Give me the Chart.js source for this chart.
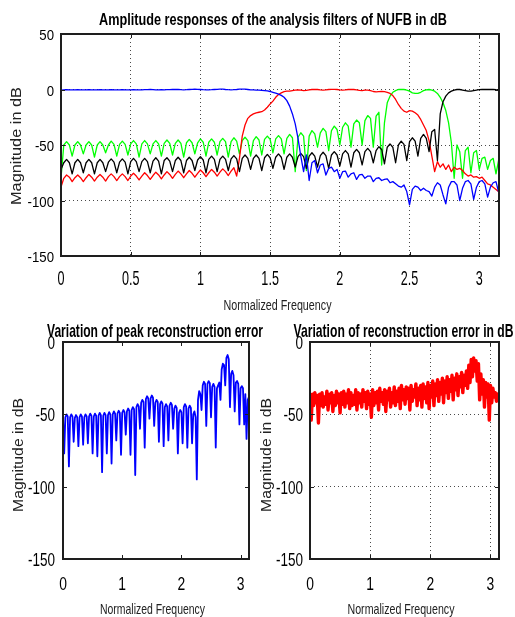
<!DOCTYPE html>
<html lang="en">
<head>
<meta charset="UTF-8">
<title>Amplitude responses of the analysis filters of NUFB</title>
<style>
  html, body { margin: 0; padding: 0; background: #fff; }
  #wrap { position: relative; width: 515px; height: 617px; overflow: hidden; }
  #wrap canvas { position: absolute; left: 0; top: 0; }
</style>
</head>
<body>
<div id="wrap">
  <canvas id="topChart" width="515" height="617"></canvas>
  <canvas id="peakChart" width="515" height="617"></canvas>
  <canvas id="errChart" width="515" height="617"></canvas>
</div>

<script src="https://cdn.jsdelivr.net/npm/chart.js@4.4.1/dist/chart.umd.min.js"></script>
<script>
// normalized frequency grid (rad/sample), shared by all three panels
const freq = [
  0,0.02,0.04,0.06,0.08,0.1,0.12,0.14,0.16,0.18,
  0.2,0.22,0.24,0.26,0.28,0.3,0.32,0.34,0.36,0.38,
  0.4,0.42,0.44,0.46,0.48,0.5,0.52,0.54,0.56,0.58,
  0.6,0.62,0.64,0.66,0.68,0.7,0.72,0.74,0.76,0.78,
  0.8,0.82,0.84,0.86,0.88,0.9,0.92,0.94,0.96,0.98,
  1,1.02,1.04,1.06,1.08,1.1,1.12,1.14,1.16,1.18,
  1.2,1.22,1.24,1.26,1.28,1.3,1.32,1.34,1.36,1.38,
  1.4,1.42,1.44,1.46,1.48,1.5,1.52,1.54,1.56,1.58,
  1.6,1.62,1.64,1.66,1.68,1.7,1.72,1.74,1.76,1.78,
  1.8,1.82,1.84,1.86,1.88,1.9,1.92,1.94,1.96,1.98,
  2,2.02,2.04,2.06,2.08,2.1,2.12,2.14,2.16,2.18,
  2.2,2.22,2.24,2.26,2.28,2.3,2.32,2.34,2.36,2.38,
  2.4,2.42,2.44,2.46,2.48,2.5,2.52,2.54,2.56,2.58,
  2.6,2.62,2.64,2.66,2.68,2.7,2.72,2.74,2.76,2.78,
  2.8,2.82,2.84,2.86,2.88,2.9,2.92,2.94,2.96,2.98,
  3,3.02,3.04,3.06,3.08,3.1,3.12,3.14
];

// analysis filter 1 (lowpass, blue) in dB
const band1 = [
  -0.5,-0.3,-0.2,-0.3,-0.4,-0.3,-0.2,-0.3,-0.4,-0.3,
  -0.2,-0.3,-0.4,-0.3,-0.2,-0.3,-0.4,-0.3,-0.2,-0.3,
  -0.4,-0.3,-0.2,-0.3,-0.4,-0.3,-0.2,-0.3,-0.4,-0.3,
  -0.2,-0.1,0,-0.1,-0.3,-0.3,-0.2,-0.3,-0.2,-0.1,
  0,0.1,0,-0.2,-0.3,-0.2,0,0.2,0.3,0.2,
  0,-0.2,-0.3,-0.3,-0.2,0,0.2,0.4,0.3,0,
  -0.2,-0.3,-0.2,0,0.3,0.4,0.3,0,-0.3,-0.4,
  -0.5,-0.6,-0.8,-1,-1.3,-1.8,-2.5,-3.3,-4.2,-5.3,
  -7,-10,-15,-22,-31,-44,-60,-74,-59,-82,
  -66,-64,-75,-68,-67,-77,-71,-70,-74,-72,
  -80,-74,-73.5,-79,-76,-75,-81,-77,-76.5,-80,
  -78,-78,-83,-80,-79.5,-82,-81,-80.5,-84,-83,
  -85,-87,-88,-86,-92,-104,-90,-87,-88,-91,
  -89,-91,-92,-96,-88,-84,-86,-95,-103,-88,
  -83,-83,-86,-100,-89,-83,-82,-85,-99,-88,
  -83,-82,-85,-97,-88,-84,-83,-93
];

// analysis filter 2 (red) in dB
const band2 = [
  -88,-80,-77,-79,-83,-79.5,-77,-79.5,-83,-79.5,
  -76.5,-79,-82.5,-79,-76.5,-79,-82.5,-78.5,-76,-78.5,
  -82,-78.5,-76,-78.5,-82,-78,-75.5,-78,-81.5,-78,
  -75,-77.5,-81,-77.5,-74.5,-77,-80.5,-77,-74,-76.5,
  -80,-76.5,-73.5,-76,-79.5,-76,-73,-75.5,-79,-75.5,
  -72.5,-75,-78.5,-75,-72,-74.5,-78,-74.5,-71.5,-74,
  -77.5,-73.5,-70.5,-78,-62,-42,-32,-26,-23.5,-22,
  -21,-20.5,-20,-18.5,-16,-13,-10.5,-7,-4.5,-3,
  -2,-1.5,-1.5,-1,-0.5,-0.3,-0.5,-1,-0.8,-0.3,
  0,0.2,0,-0.3,-0.5,-0.3,0,0.2,0.2,0,
  -0.3,-0.5,-0.3,0,0.2,0,-0.3,-0.8,-1,-0.6,
  -0.5,-1,-1.8,-2.2,-2,-1.8,-2,-2.5,-3.5,-5.5,
  -9,-13.5,-17,-19.5,-20.5,-19,-19.5,-21,-23,-27,
  -32,-37,-46,-60,-74,-65,-70,-67,-72,-68,
  -74,-70,-72,-71,-73,-76,-78,-77,-79,-78.5,
  -80,-79,-82,-85,-86,-88,-90,-92
];

// analysis filter 3 (green) in dB
const band3 = [
  -80,-50,-47,-50,-60,-50,-47,-50,-58,-50,
  -47,-50,-61,-50,-47,-50,-57,-50,-46.5,-49.5,
  -60,-49.5,-46.5,-49.5,-59,-49,-46,-49,-61,-49,
  -46,-49,-58,-49,-46,-49,-60,-48.5,-45.5,-48.5,
  -59,-48.5,-45.5,-48.5,-61,-48,-45,-48,-58,-48,
  -44.5,-47.5,-60,-47.5,-44.5,-47.5,-59,-47,-44,-47,
  -61,-47,-43.5,-46.5,-58,-46,-43,-46,-60,-46,
  -42.5,-45.5,-59,-45,-42,-45,-57,-44.5,-41.5,-44.5,
  -58,-44,-40.5,-43.5,-74,-43,-39,-42,-73,-42,
  -37,-40,-52,-39,-35,-38,-55,-37,-33,-36,
  -50,-34,-30,-33,-52,-31,-27.5,-30,-50,-28,
  -23.5,-26,-52,-24,-20.5,-68,-30,-12,-6,-2.5,
  -1,0,0,0,-0.5,-1.5,-3,-3.5,-3.5,-2.5,
  -1,-0.3,0,-0.5,-1.5,-3.5,-7,-12,-19,-30,
  -48,-80,-50,-56,-80,-55,-52,-75,-57,-55,
  -72,-62,-61,-72,-64,-62,-76,-63
];

// analysis filter 4 (highpass, black) in dB
const band4 = [
  -72,-66,-63,-66,-76,-66,-63,-66,-75,-66,
  -63,-66,-76,-66,-63,-66,-74,-65.5,-62.5,-65.5,
  -75,-65.5,-62.5,-65.5,-76,-65,-62,-65,-74,-65,
  -62,-65,-75,-64.5,-61.5,-64.5,-76,-64,-61.5,-64.5,
  -74,-64,-61,-64,-75,-64,-61,-64,-73,-63.5,
  -60.5,-63.5,-75,-63,-60,-63,-74,-63,-60,-63,
  -73,-62.5,-59.5,-62.5,-74,-62,-59,-62,-72,-62,
  -59,-62,-73,-61.5,-58.5,-61.5,-71,-61,-58,-61,
  -72,-61,-58,-61,-70,-60.5,-57.5,-60.5,-71,-60,
  -57,-60,-70,-59.5,-56.5,-59.5,-71,-59,-56,-59,
  -69,-58,-55,-58,-70,-57,-54,-57,-68,-56,
  -53,-56,-66,-55,-51.5,-54,-67,-52,-49,-52,
  -66,-50,-46.5,-49.5,-64,-47,-43.5,-46.5,-60,-44,
  -40.5,-44,-56,-38,-36,-64,-22,-11,-6,-3,
  -1.5,-0.5,0,0,-0.5,-1,-1.5,-1.5,-1,-0.5,
  -0.2,0,0,0,0,0,-0.2,-0.3
];

// peak reconstruction error (blue, lower left) in dB
const peakErr = [
  -52,-77,-52,-50,-51.5,-86,-52,-50,-51.5,-69,
  -52.5,-50.5,-52,-72,-52,-50,-51.5,-71,-52,-50,
  -51.5,-70,-51.5,-49.5,-51,-77,-51.5,-49.5,-51,-79,
  -51,-49,-50.5,-90,-51,-49,-50.5,-77,-50.5,-48.5,
  -50,-84,-50,-48,-49.5,-68,-49.5,-47.5,-49,-78,
  -49,-47,-48.5,-64,-48,-46,-47.5,-78,-47,-45,
  -46.5,-92,-45,-43,-44.5,-60,-42,-40,-41.5,-73,
  -39.5,-37.5,-39,-53,-39,-37,-38.5,-58,-42,-40,
  -41.5,-69,-43,-41,-42.5,-72,-45,-43,-44.5,-68,
  -44,-42,-43.5,-60,-46,-44,-45.5,-77,-49,-47,
  -48.5,-70,-45,-43,-44.5,-73,-46,-44,-45.5,-70,
  -50,-48,-52,-95,-40,-34,-36,-47,-30,-27.5,
  -29,-58,-29,-27,-28.5,-52,-31,-29,-31,-73,
  -32,-30,-28,-40,-19,-15,-16,-30,-11,-9,
  -12,-45,-22,-20,-23,-48,-28,-27,-29,-57,
  -32,-30.5,-32,-57,-36,-67,-40,-38
];

// reconstruction error (red, lower right) in dB
const reconErr = [
  -38,-54,-36,-44,-35,-42,-37,-56,-36,-44,
  -35,-45,-38,-43,-34,-47,-36,-42,-35,-48,
  -37,-44,-34,-42,-36,-49,-35,-43,-34,-45,
  -36,-42,-33,-46,-35,-44,-37,-43,-33,-47,
  -35,-42,-36,-45,-33,-41,-35,-46,-34,-43,
  -36,-52,-33,-44,-35,-42,-34,-47,-32,-41,
  -35,-43,-33,-48,-34,-40,-32,-45,-35,-42,
  -31,-44,-34,-41,-32,-46,-30,-40,-33,-43,
  -31,-39,-32,-47,-30,-41,-33,-38,-29,-44,
  -32,-40,-30,-45,-29,-39,-31,-42,-28,-46,
  -30,-38,-27,-44,-29,-37,-26,-41,-28,-36,
  -25,-42,-27,-35,-24,-39,-26,-34,-23,-40,
  -25,-33,-22,-37,-24,-31,-21,-35,-23,-30,
  -20,-32,-16,-28,-12,-24,-11,-20,-13,-27,
  -15,-40,-22,-36,-26,-45,-28,-38,-29,-54,
  -30,-42,-32,-38,-35,-41,-36,-39
];

// tick positions
const xTicksTop = [0, 0.5, 1, 1.5, 2, 2.5, 3];
const yTicksTop = [50, 0, -50, -100, -150];
const xTicksBottom = [0, 1, 2, 3];
const yTicksBottom = [0, -50, -100, -150];

const SANS = "'Liberation Sans', Arial, sans-serif";
const NARROW = "'Liberation Sans Narrow', 'Liberation Sans', Arial, sans-serif";

// text squeezed horizontally, the way the exported figure looks
function drawText(ctx, text, x, y, o) {
  ctx.save();
  ctx.font = o.font;
  ctx.fillStyle = o.color || '#000';
  ctx.textAlign = o.align || 'center';
  ctx.textBaseline = 'alphabetic';
  ctx.translate(x, y);
  if (o.rotate) ctx.rotate(o.rotate);
  let sx = o.sx || 1;
  if (o.width) sx = o.width / ctx.measureText(text).width;
  ctx.scale(sx, 1);
  ctx.fillText(text, 0, 0);
  ctx.restore();
}

// box, inner ticks, tick labels and titles (matlab style)
const panelPlugin = {
  id: 'panel',
  afterDraw(chart, args, p) {
    const ctx = chart.ctx, a = chart.chartArea;
    const xs = chart.scales.x, ys = chart.scales.y;

    ctx.save();
    ctx.strokeStyle = '#1e1e1e';
    ctx.lineWidth = 1;
    ctx.beginPath();
    xs.ticks.forEach(t => {
      const px = Math.round(xs.getPixelForValue(t.value)) + 0.5;
      if (px < a.left + 2 || px > a.right - 2) return;
      ctx.moveTo(px, a.top); ctx.lineTo(px, a.top + 4);
      ctx.moveTo(px, a.bottom); ctx.lineTo(px, a.bottom - 4);
    });
    ys.ticks.forEach(t => {
      const py = Math.round(ys.getPixelForValue(t.value)) + 0.5;
      if (py < a.top + 2 || py > a.bottom - 2) return;
      ctx.moveTo(a.left, py); ctx.lineTo(a.left + 4, py);
      ctx.moveTo(a.right, py); ctx.lineTo(a.right - 4, py);
    });
    ctx.stroke();
    ctx.lineWidth = 2;
    ctx.strokeRect(a.left, a.top, a.right - a.left, a.bottom - a.top);
    ctx.restore();

    xs.ticks.forEach(t => {
      drawText(ctx, String(t.value), xs.getPixelForValue(t.value), p.xTickBase,
        {font: p.xTickFont, sx: p.xTickSx});
    });
    ys.ticks.forEach(t => {
      drawText(ctx, String(t.value), a.left - p.yTickGap, ys.getPixelForValue(t.value) + p.yTickDrop,
        {font: p.yTickFont, sx: p.yTickSx, align: 'right'});
    });

    drawText(ctx, p.title, p.title_x, p.title_y, {font: p.titleFont, width: p.titleW});
    drawText(ctx, 'Normalized Frequency', p.xl_x, p.xl_y, {font: p.labelFont, width: p.xlW, color: '#222'});
    drawText(ctx, 'Magnitude in dB', p.yl_x, p.yl_y, {font: p.labelFont, width: p.ylW, rotate: -Math.PI / 2, color: '#222'});
  }
};

function series(values, color, width) {
  return {
    data: freq.map((f, i) => ({x: f, y: values[i]})),
    borderColor: color,
    borderWidth: width,
    pointRadius: 0,
    fill: false
  };
}

function panelChart(id, datasets, box, panel) {
  return new Chart(document.getElementById(id), {
    type: 'line',
    data: { datasets: datasets },
    options: {
      responsive: false,
      animation: false,
      devicePixelRatio: 1,
      layout: { padding: { left: 0, top: box.top, right: 515 - box.right, bottom: 0 } },
      elements: { line: { tension: 0, borderJoinStyle: 'round', borderCapStyle: 'round' } },
      plugins: {
        legend: { display: false },
        tooltip: { enabled: false },
        title: { display: false },
        panel: panel
      },
      scales: {
        x: {
          type: 'linear', min: 0, max: Math.PI,
          afterBuildTicks: s => { s.ticks = box.xTicks.map(v => ({value: v})); },
          afterFit: s => { s.height = 617 - box.bottom; },
          ticks: { display: false },
          grid: { display: box.grid, drawTicks: false, color: '#4a4a4a', lineWidth: 1 },
          border: { display: false, dash: [1, 3] }
        },
        y: {
          type: 'linear', min: box.yMin, max: box.yMax,
          afterBuildTicks: s => { s.ticks = box.yTicks.map(v => ({value: v})); },
          afterFit: s => { s.width = box.left; },
          ticks: { display: false },
          grid: { display: box.grid, drawTicks: false, color: '#4a4a4a', lineWidth: 1 },
          border: { display: false, dash: [1, 3] }
        }
      }
    },
    plugins: [panelPlugin]
  });
}

// top panel: the four analysis filters
panelChart('topChart',
  [series(band1, '#0000ff', 1.3), series(band4, '#000000', 1.3),
   series(band2, '#ff0000', 1.3), series(band3, '#00ff00', 1.3)],
  {left: 61, right: 499, top: 34, bottom: 256, yMin: -150, yMax: 50,
   xTicks: xTicksTop, yTicks: yTicksTop, grid: true},
  {title: 'Amplitude responses of the analysis filters of NUFB in dB',
   titleFont: 'bold 16px ' + NARROW, titleW: 348, title_x: 273, title_y: 25,
   labelFont: '14px ' + SANS, xlW: 108, xl_x: 277.5, xl_y: 310,
   ylW: 118, yl_x: 21, yl_y: 146,
   xTickFont: '21px ' + SANS, xTickSx: 0.6, xTickBase: 285,
   yTickFont: '15px ' + SANS, yTickSx: 0.88, yTickGap: 7, yTickDrop: 6.3});

// lower left: peak reconstruction error
panelChart('peakChart',
  [series(peakErr, '#0000ff', 1.8)],
  {left: 63, right: 249, top: 342, bottom: 559, yMin: -150, yMax: 0,
   xTicks: xTicksBottom, yTicks: yTicksBottom, grid: false},
  {title: 'Variation of peak reconstruction error',
   titleFont: 'bold 18.5px ' + NARROW, titleW: 216, title_x: 155, title_y: 336.5,
   labelFont: '14.5px ' + SANS, xlW: 105, xl_x: 152.5, xl_y: 613.5,
   ylW: 114, yl_x: 23, yl_y: 455,
   xTickFont: '18.5px ' + SANS, xTickSx: 0.75, xTickBase: 590,
   yTickFont: '18.5px ' + SANS, yTickSx: 0.73, yTickGap: 8, yTickDrop: 7});

// lower right: reconstruction error
panelChart('errChart',
  [series(reconErr, '#ff0000', 3.4)],
  {left: 310, right: 499, top: 342, bottom: 559, yMin: -150, yMax: 0,
   xTicks: xTicksBottom, yTicks: yTicksBottom, grid: true},
  {title: 'Variation of reconstruction error in dB',
   titleFont: 'bold 18.5px ' + NARROW, titleW: 220, title_x: 403.5, title_y: 336.5,
   labelFont: '14.5px ' + SANS, xlW: 107, xl_x: 401, xl_y: 613.5,
   ylW: 114, yl_x: 271, yl_y: 455,
   xTickFont: '18.5px ' + SANS, xTickSx: 0.75, xTickBase: 590,
   yTickFont: '18.5px ' + SANS, yTickSx: 0.73, yTickGap: 7, yTickDrop: 7});
</script>
</body>
</html>
